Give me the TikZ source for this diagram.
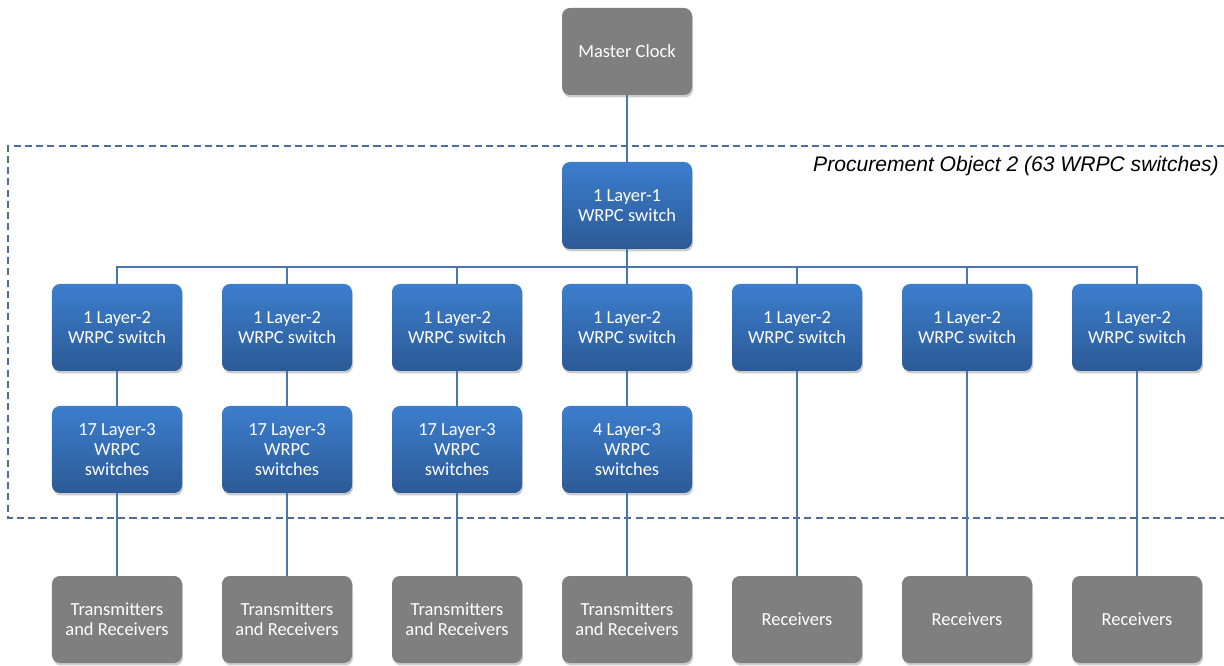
\documentclass[tikz,border=0pt]{standalone}
\usepackage{fontspec}
\setmainfont{Carlito}
\newfontfamily\labelfont{Liberation Sans}
\usepackage{tikz}
\usetikzlibrary{positioning,shadows}

\definecolor{swtop}{RGB}{60,126,205}
\definecolor{swbot}{RGB}{44,90,150}
\definecolor{endgray}{RGB}{127,127,127}
\definecolor{linkblue}{RGB}{74,118,176}
\definecolor{poblue}{RGB}{78,108,152}

\begin{document}
\begin{tikzpicture}[node distance=0.7cm,
    wr block/.style={rectangle, rounded corners=4.5pt, minimum width=2.6cm, minimum height=1.74cm, align=center, text=white, font=\fontsize{10.5}{11.6}\selectfont, inner sep=2pt, outer sep=0pt, drop shadow={shadow xshift=0.6pt, shadow yshift=-1.4pt, opacity=0.2, fill=black}},
    wr switch/.style={wr block, top color=swtop, bottom color=swbot},
    wr end/.style={wr block, fill=endgray},
    wr link/.style={draw=linkblue, line width=0.9pt},
    po frame/.style={draw=poblue, line width=0.6pt, dash pattern=on 4pt off 2.4pt},
    po label/.style={font=\labelfont\itshape\fontsize{12}{14}\selectfont, inner sep=0pt}]

    \useasboundingbox (0,0) rectangle (24.48,-13.32);

    % procurement object frame
    \draw [po frame] (24.48,-2.92) -- (0.16,-2.92) -- (0.16,-10.36) -- (24.48,-10.36);
    \node [po label, anchor=east] (polabel) at (24.38,-3.32) {Procurement Object 2 (63 WRPC switches)};

    \node [wr end] (clock) at (12.54,-1.03) {Master Clock};
    \node [wr switch, below=1.34cm of clock] (l1) {1 Layer-1\\WRPC switch};

    % layer-2 row
    \node [wr switch, below=0.7cm of l1] (l2d) {1 Layer-2\\WRPC switch};
    \node [wr switch, left=0.8cm of l2d] (l2c) {1 Layer-2\\WRPC switch};
    \node [wr switch, left=0.8cm of l2c] (l2b) {1 Layer-2\\WRPC switch};
    \node [wr switch, left=0.8cm of l2b] (l2a) {1 Layer-2\\WRPC switch};
    \node [wr switch, right=0.8cm of l2d] (l2e) {1 Layer-2\\WRPC switch};
    \node [wr switch, right=0.8cm of l2e] (l2f) {1 Layer-2\\WRPC switch};
    \node [wr switch, right=0.8cm of l2f] (l2g) {1 Layer-2\\WRPC switch};

    % layer-3 row
    \node [wr switch, below=0.7cm of l2a] (l3a) {17 Layer-3\\WRPC\\switches};
    \node [wr switch, below=0.7cm of l2b] (l3b) {17 Layer-3\\WRPC\\switches};
    \node [wr switch, below=0.7cm of l2c] (l3c) {17 Layer-3\\WRPC\\switches};
    \node [wr switch, below=0.7cm of l2d] (l3d) {4 Layer-3\\WRPC\\switches};

    % end devices
    \node [wr end, below=1.66cm of l3a] (trxa) {Transmitters\\and Receivers};
    \node [wr end, below=1.66cm of l3b] (trxb) {Transmitters\\and Receivers};
    \node [wr end, below=1.66cm of l3c] (trxc) {Transmitters\\and Receivers};
    \node [wr end, below=1.66cm of l3d] (trxd) {Transmitters\\and Receivers};
    \node [wr end, right=0.8cm of trxd] (rxa) {Receivers};
    \node [wr end, right=0.8cm of rxa] (rxb) {Receivers};
    \node [wr end, right=0.8cm of rxb] (rxc) {Receivers};

    \coordinate [below=0.36cm of l1] (bus);

    \draw [wr link] (clock) -- (l1);
    \foreach \n in {l2a,l2b,l2c,l2d,l2e,l2f,l2g}
        \draw [wr link] (l1) -- (bus) -| (\n);
    \foreach \n in {a,b,c,d} {
        \draw [wr link] (l2\n) -- (l3\n);
        \draw [wr link] (l3\n) -- (trx\n);
    }
    \draw [wr link] (l2e) -- (rxa);
    \draw [wr link] (l2f) -- (rxb);
    \draw [wr link] (l2g) -- (rxc);

\end{tikzpicture}
\end{document}
